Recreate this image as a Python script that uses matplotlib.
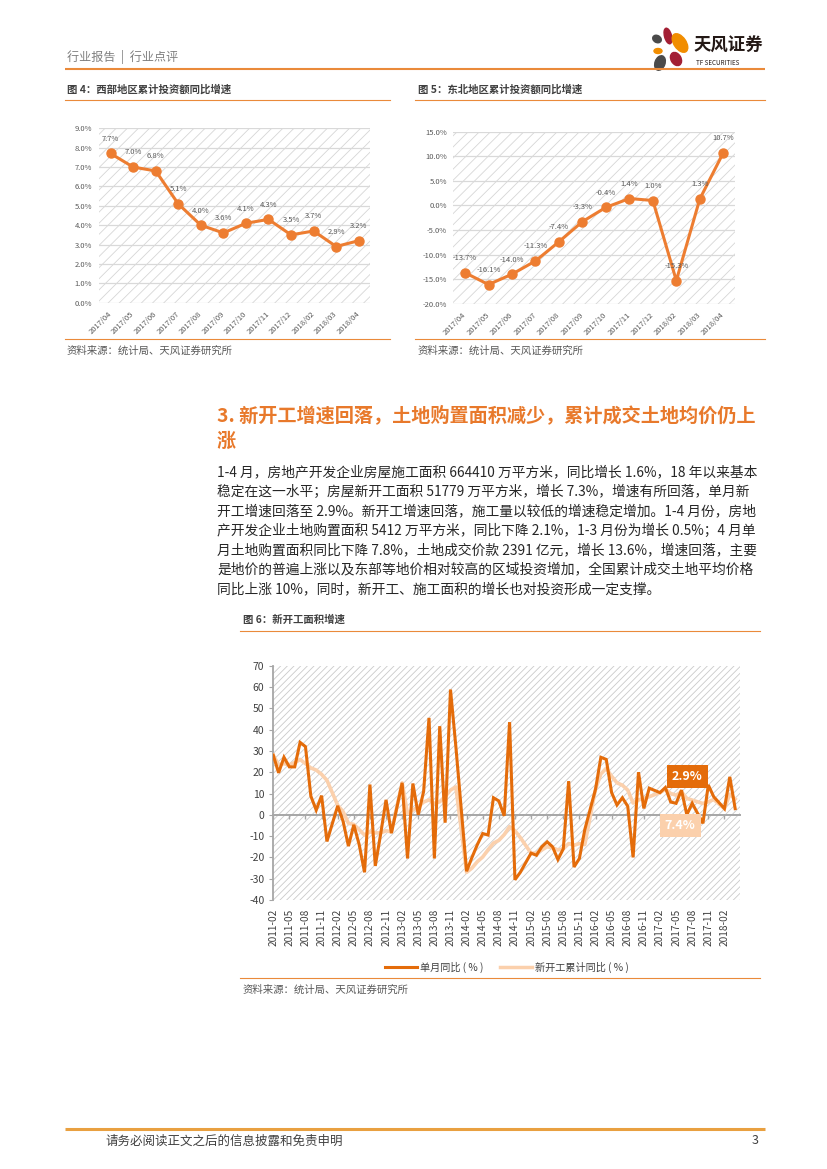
import matplotlib
matplotlib.use('Agg')
import matplotlib.pyplot as plt
from matplotlib.patches import Rectangle, Ellipse
from matplotlib.lines import Line2D
import numpy as np

plt.rcParams['font.family'] = ['Noto Sans CJK SC', 'DejaVu Sans']
plt.rcParams['axes.unicode_minus'] = False
plt.rcParams['hatch.linewidth'] = 0.6

# ---------------- data ----------------
small_labels = ['2017/04', '2017/05', '2017/06', '2017/07', '2017/08', '2017/09',
                '2017/10', '2017/11', '2017/12', '2018/02', '2018/03', '2018/04']
west_values = [7.7, 7.0, 6.8, 5.1, 4.0, 3.6, 4.1, 4.3, 3.5, 3.7, 2.9, 3.2]
northeast_values = [-13.7, -16.1, -14.0, -11.3, -7.4, -3.3, -0.4, 1.4, 1.0, -15.3, 1.3, 10.7]

# new construction area growth, values from Feb to Dec of each year (Jan not published)
single_2011 = [28, 19.7, 27, 22.5, 22.5, 34, 32, 8.8, 2.2, 9, -12.5]
single_2012 = [4.2, -3, -14.7, -4.7, -14, -27, 14.2, -24, -9, 7, -8.6]
single_2013 = [15, -20.5, 14.7, 0, 11, 45.5, -20.5, 41.6, -3.7, 58.8, 32]
single_2014 = [-26.5, -20, -14, -8.8, -9.5, 8, 6.5, -0.5, 43.5, -30.5, -27]
single_2015 = [-18, -19, -15, -12.7, -15, -21, -16, 15.8, -24.5, -20.5, -7]
single_2016 = [12, 27, 26, 10.4, 4.6, 8, 4, -20, 20, 3, 12.5]
single_2017 = [10.4, 12.8, 6, 5.4, 11.6, 0, 5.4, 0.7, -4, 14, 8.5]
single_2018 = [2.9, 17.8, 2.9]

cum_2011 = [28, 23.5, 24, 23.5, 24.5, 26, 24, 22, 21, 19, 16.2]
cum_2012 = [4.5, 1.5, -4, -4.5, -7, -9.5, -8, -8.5, -8.5, -7.5, -8]
cum_2013 = [15, 0.5, 2.2, 3.8, 6, 7, 5.3, 6.1, 8.5, 11.6, 13.1]
cum_2014 = [-27, -25, -22, -19.8, -16.4, -13.3, -12, -9.3, -5.6, -7.5, -10.7]
cum_2015 = [-18, -18, -16.5, -15, -15.5, -16.5, -16, -13.5, -14.3, -13.5, -14]
cum_2016 = [12, 19.2, 21.8, 18.1, 15, 13.9, 11.6, 5.5, 7, 7.7, 8.5]
cum_2017 = [10.4, 12, 10, 9.2, 10.8, 7.7, 6.9, 6.1, 5.3, 6.1, 7.2]
cum_2018 = [2.9, 9.7, 7.4]

years = [2011, 2012, 2013, 2014, 2015, 2016, 2017, 2018]
single_by_year = [single_2011, single_2012, single_2013, single_2014,
                  single_2015, single_2016, single_2017, single_2018]
cum_by_year = [cum_2011, cum_2012, cum_2013, cum_2014,
               cum_2015, cum_2016, cum_2017, cum_2018]

series_names = ['单月同比 ( % )', '新开工累计同比 ( % )']
last_labels = ['2.9%', '7.4%']

# month index (0 = 2011-02)
def month_positions(year, n):
    return [(year - 2011) * 12 + k for k in range(n)]

x_single, y_single, x_cum, y_cum = [], [], [], []
for yr, s, c in zip(years, single_by_year, cum_by_year):
    x_single += month_positions(yr, len(s)); y_single += s
    x_cum += month_positions(yr, len(c)); y_cum += c

tick_pos = list(range(0, 85, 3))
tick_labels = [f"{2011 + (1 + i) // 12}-{(1 + i) % 12 + 1:02d}" for i in tick_pos]

# ---------------- page ----------------
W, H = 827, 1169
fig = plt.figure(figsize=(8.27, 11.69), dpi=100)
P = fig.add_axes([0, 0, 1, 1])
P.set_xlim(0, W); P.set_ylim(H, 0); P.axis('off')

ORANGE = '#EA8A3A'
TXT = '#404040'

P.text(67, 57, '行业报告  |  行业点评', fontsize=8.7, color='#7F7F7F', va='center')
P.plot([65, 765], [69, 69], color=ORANGE, lw=1.5, solid_capstyle='butt')

# logo
P.add_patch(Ellipse((668, 36), 7, 16, angle=-15, color='#A31F34'))
P.add_patch(Ellipse((680, 43), 12, 21, angle=-35, color='#F18D00'))
P.add_patch(Ellipse((657, 39), 9, 7, angle=30, color='#4A4A4A'))
P.add_patch(Ellipse((658, 51), 8, 5, color='#F18D00'))
P.add_patch(Ellipse((660, 63), 10, 15, angle=20, color='#4A4A4A'))
P.add_patch(Ellipse((676, 59), 10, 14, angle=-30, color='#A31F34'))
P.text(693, 46, '天风证券', fontsize=12.5, fontweight='bold', color='#231815', va='center')
P.text(696, 63, 'TF SECURITIES', fontsize=4.5, color='#231815', va='center')

# figure titles
P.text(67, 89, '图 4：西部地区累计投资额同比增速', fontsize=7.5, fontweight='bold', color=TXT, va='center')
P.plot([65, 390], [99.5, 99.5], color=ORANGE, lw=0.8)
P.text(418, 89, '图 5：东北地区累计投资额同比增速', fontsize=7.5, fontweight='bold', color=TXT, va='center')
P.plot([415, 765], [99.5, 99.5], color=ORANGE, lw=0.8)
P.plot([65, 390], [338.5, 338.5], color=ORANGE, lw=0.8)
P.plot([415, 765], [338.5, 338.5], color=ORANGE, lw=0.8)
P.text(67, 351, '资料来源：统计局、天风证券研究所', fontsize=7.5, color='#595959', va='center')
P.text(418, 351, '资料来源：统计局、天风证券研究所', fontsize=7.5, color='#595959', va='center')

# section heading
HEAD = '#E8792B'
P.text(217, 415, '3. 新开工增速回落，土地购置面积减少，累计成交土地均价仍上', fontsize=13.8,
       fontweight='bold', color=HEAD, va='center')
P.text(217, 441, '涨', fontsize=13.8, fontweight='bold', color=HEAD, va='center')

body = [
    '1-4 月，房地产开发企业房屋施工面积 664410 万平方米，同比增长 1.6%，18 年以来基本',
    '稳定在这一水平；房屋新开工面积 51779 万平方米，增长 7.3%，增速有所回落，单月新',
    '开工增速回落至 2.9%。新开工增速回落，施工量以较低的增速稳定增加。1-4 月份，房地',
    '产开发企业土地购置面积 5412 万平方米，同比下降 2.1%，1-3 月份为增长 0.5%；4 月单',
    '月土地购置面积同比下降 7.8%，土地成交价款 2391 亿元，增长 13.6%，增速回落，主要',
    '是地价的普遍上涨以及东部等地价相对较高的区域投资增加，全国累计成交土地平均价格',
    '同比上涨 10%，同时，新开工、施工面积的增长也对投资形成一定支撑。',
]
for i, line in enumerate(body):
    P.text(217, 472 + 19.5 * i, line, fontsize=9.9, color='#262626', va='center')

P.text(243, 620, '图 6：新开工面积增速', fontsize=7.5, fontweight='bold', color=TXT, va='center')
P.plot([240, 760], [631, 631], color=ORANGE, lw=0.8)
P.plot([240, 760], [978, 978], color=ORANGE, lw=0.8)
P.text(243, 990, '资料来源：统计局、天风证券研究所', fontsize=7.5, color='#595959', va='center')

P.plot([65, 765], [1129, 1129], color='#E9A040', lw=2.2, solid_capstyle='butt')
P.text(105, 1141, '请务必阅读正文之后的信息披露和免责申明', fontsize=9, color=TXT, va='center')
P.text(752, 1141, '3', fontsize=9, color=TXT, va='center')

def px_axes(x0, y0, x1, y1):
    return fig.add_axes([x0 / W, 1 - y1 / H, (x1 - x0) / W, (y1 - y0) / H])

def hatch_bg(ax, color, pattern):
    ax.add_patch(Rectangle((0, 0), 1, 1, transform=ax.transAxes, facecolor='white',
                           edgecolor=color, hatch=pattern, lw=0, zorder=0))

LINE = '#ED7D31'

def small_chart(ax, values, ylo, yhi, step, pad):
    x = np.arange(len(values))
    hatch_bg(ax, '#D6D6D6', '///')
    ax.set_xlim(-0.5, len(values) - 0.5)
    ax.set_ylim(ylo, yhi)
    ax.set_yticks(np.arange(ylo, yhi + 0.001, step))
    ax.set_yticklabels([f'{v:.1f}%' for v in np.arange(ylo, yhi + 0.001, step)])
    ax.yaxis.grid(True, color='#D9D9D9', lw=0.9)
    ax.set_axisbelow(True)
    for s in ax.spines.values():
        s.set_visible(False)
    ax.set_xticks(x)
    ax.set_xticklabels(small_labels, rotation=45, ha='right', va='center', rotation_mode='anchor')
    ax.tick_params(length=0, labelsize=5.5, labelcolor='#595959', pad=pad)
    ax.tick_params(axis='x', pad=7)
    ax.plot(x, values, color=LINE, lw=2.2, marker='o', ms=6.5, zorder=3,
            solid_joinstyle='round')
    for xi, v in zip(x, values):
        ax.annotate(f'{v:.1f}%', (xi, v), xytext=(0, 10.5), textcoords='offset points',
                    ha='center', va='center', fontsize=5.5, color='#595959', zorder=4)

ax1 = px_axes(99.3, 128.3, 370, 302.7)
small_chart(ax1, west_values, 0, 9, 1, 5)
ax2 = px_axes(453.3, 131.7, 735, 303.7)
small_chart(ax2, northeast_values, -20, 15, 5, 4.5)

# ---------------- big chart ----------------
ax3 = px_axes(272.7, 665.7, 740, 900)
hatch_bg(ax3, '#CACACA', '/////')
ax3.set_xlim(-0.1, 86.9)
ax3.set_ylim(-40, 70)
for k in ['top', 'right', 'bottom']:
    ax3.spines[k].set_visible(False)
ax3.spines['left'].set_color('#A6A6A6')
ax3.spines['left'].set_linewidth(1.3)
ax3.set_yticks(range(-40, 71, 10))
ax3.set_yticklabels([str(v) for v in range(-40, 71, 10)])
ax3.tick_params(axis='y', length=3, color='#A6A6A6', labelsize=7.5, labelcolor=TXT, pad=3)
ax3.set_xticks(tick_pos)
ax3.set_xticklabels(tick_labels, rotation=90, va='top', ha='center')
ax3.tick_params(axis='x', length=0, labelsize=7.3, labelcolor=TXT, pad=6)

sec = ax3.secondary_xaxis(40 / 110)
sec.set_xticks(tick_pos)
sec.set_xticklabels([])
sec.tick_params(length=3, color='#A6A6A6', direction='out', width=1)
for k, s in sec.spines.items():
    s.set_color('#A6A6A6')
    s.set_linewidth(1.4)

DARK = '#E46C0A'
LIGHT = '#FBD0AC'
ax3.plot(x_cum, y_cum, color=LIGHT, lw=2.6, zorder=3, solid_joinstyle='round')
ax3.plot(x_single, y_single, color=DARK, lw=2.2, zorder=4, solid_joinstyle='miter')

ax3.annotate(last_labels[0], (x_single[-1], y_single[-1]), xytext=(-34.4, 23),
             textcoords='offset points', ha='center', va='center', fontsize=9,
             fontweight='bold', color='white', zorder=6,
             bbox=dict(boxstyle='square,pad=0.4', fc=DARK, ec='none'))
ax3.annotate(last_labels[1], (x_cum[-1], y_cum[-1]), xytext=(-39.6, -18.7),
             textcoords='offset points', ha='center', va='center', fontsize=9,
             fontweight='bold', color='white', zorder=6,
             bbox=dict(boxstyle='square,pad=0.4', fc=LIGHT, ec='none'))

handles = [Line2D([], [], color=DARK, lw=2.2), Line2D([], [], color=LIGHT, lw=2.5)]
fig.legend(handles, series_names, loc='center', bbox_to_anchor=(507 / W, 1 - 967 / H),
           ncol=2, frameon=False, fontsize=7.3, handlelength=3.2, handletextpad=0.3,
           columnspacing=1.6, labelcolor=TXT)

fig.savefig('out.png', dpi=100)
